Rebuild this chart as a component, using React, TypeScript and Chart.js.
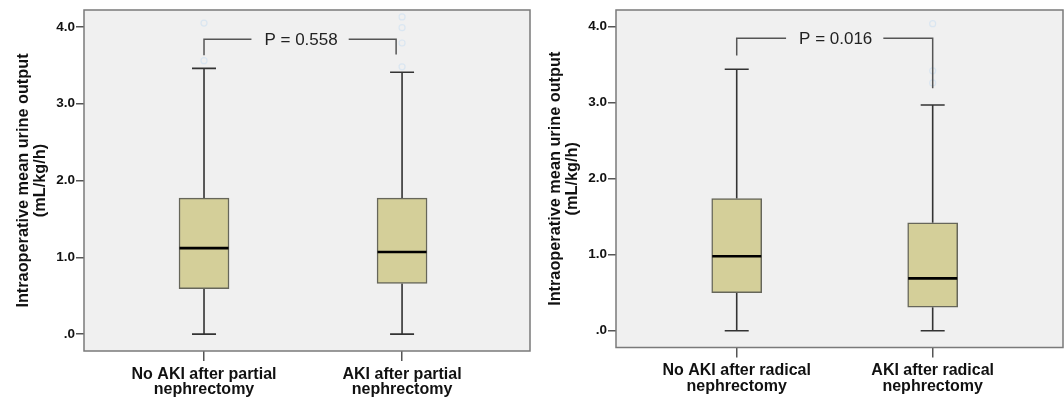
import React, { useEffect, useRef } from 'react';
import { Chart, registerables } from 'chart.js';

Chart.register(...registerables);

// ---------- data ----------
const yTickValues = [0, 1, 2, 3, 4];
const yTickLabels = ['.0', '1.0', '2.0', '3.0', '4.0'];
const yTitle = ['Intraoperative mean urine output', '(mL/kg/h)'];
const groupPositions = [1, 2];

const leftCategories = [['No AKI after partial', 'nephrectomy'], ['AKI after partial', 'nephrectomy']];
const leftMin = [0, 0];
const leftQ1 = [0.59, 0.66];
const leftMedian = [1.12, 1.07];
const leftQ3 = [1.77, 1.77];
const leftMax = [3.46, 3.41];
const leftOutliers = [[3.56, 4.05], [3.48, 3.79, 3.99, 4.13]];
const leftPLabel = 'P = 0.558';
const leftBracketX = [1, 1.97];
const leftBracketY = [3.63, 3.84, 3.64];

const rightCategories = [['No AKI after radical', 'nephrectomy'], ['AKI after radical', 'nephrectomy']];
const rightMin = [0, 0];
const rightQ1 = [0.5, 0.31];
const rightMedian = [0.98, 0.69];
const rightQ3 = [1.74, 1.42];
const rightMax = [3.44, 2.97];
const rightOutliers = [[], [3.26, 3.42, 4.04]];
const rightPLabel = 'P = 0.016';
const rightBracketX = [1, 2];
const rightBracketY = [3.62, 3.85, 3.19];

// ---------- styles ----------
const FONT = "'Liberation Sans', Arial, Helvetica, sans-serif";
const BOX_FILL = 'rgb(212,207,153)';
const BOX_BORDER = '#66665a';
const LINE = '#333333';
const FRAME = '#7a7a7a';
const PLOT_BG = '#f0f0f0';

type Panel = {
  categories: string[][];
  min: number[];
  q1: number[];
  median: number[];
  q3: number[];
  max: number[];
  outliers: number[][];
  pLabel: string;
  bracketX: number[];
  bracketY: number[];
  xMin: number;
  xMax: number;
  padRight: number;
  xAxisHeight: number;
};

const leftPanel: Panel = {
  categories: leftCategories, min: leftMin, q1: leftQ1, median: leftMedian, q3: leftQ3, max: leftMax,
  outliers: leftOutliers, pLabel: leftPLabel, bracketX: leftBracketX, bracketY: leftBracketY,
  xMin: 0.394, xMax: 2.646, padRight: 2, xAxisHeight: 48,
};
const rightPanel: Panel = {
  categories: rightCategories, min: rightMin, q1: rightQ1, median: rightMedian, q3: rightQ3, max: rightMax,
  outliers: rightOutliers, pLabel: rightPLabel, bracketX: rightBracketX, bracketY: rightBracketY,
  xMin: 0.384, xMax: 2.665, padRight: 1, xAxisHeight: 51.5,
};

function boxPlugin(p: Panel) {
  return {
    id: 'boxExtras',
    beforeDraw(chart: any) {
      const { ctx, chartArea: a } = chart;
      ctx.save();
      ctx.fillStyle = PLOT_BG;
      ctx.fillRect(a.left, a.top, a.right - a.left, a.bottom - a.top);
      ctx.restore();
    },
    beforeDatasetsDraw(chart: any) {
      const { ctx } = chart;
      const xs = chart.scales.x;
      const ys = chart.scales.y;
      ctx.save();
      ctx.strokeStyle = LINE;
      ctx.lineWidth = 1.6;
      groupPositions.forEach((g, i) => {
        const x = xs.getPixelForValue(g);
        const yMin = ys.getPixelForValue(p.min[i]);
        const yMax = ys.getPixelForValue(p.max[i]);
        const yQ1 = ys.getPixelForValue(p.q1[i]);
        const yQ3 = ys.getPixelForValue(p.q3[i]);
        ctx.beginPath();
        ctx.moveTo(x, yQ3); ctx.lineTo(x, yMax);
        ctx.moveTo(x, yQ1); ctx.lineTo(x, yMin);
        ctx.moveTo(x - 12, yMax); ctx.lineTo(x + 12, yMax);
        ctx.moveTo(x - 12, yMin); ctx.lineTo(x + 12, yMin);
        ctx.stroke();
      });
      ctx.restore();
    },
    afterDatasetsDraw(chart: any) {
      const { ctx } = chart;
      const xs = chart.scales.x;
      const ys = chart.scales.y;
      ctx.save();
      // medians
      ctx.strokeStyle = '#000';
      ctx.lineWidth = 2.6;
      groupPositions.forEach((g, i) => {
        const x = xs.getPixelForValue(g);
        const y = ys.getPixelForValue(p.median[i]);
        ctx.beginPath();
        ctx.moveTo(x - 24.5, y); ctx.lineTo(x + 24.5, y);
        ctx.stroke();
      });
      // bracket
      const xL = xs.getPixelForValue(p.bracketX[0]);
      const xR = xs.getPixelForValue(p.bracketX[1]);
      const yL = ys.getPixelForValue(p.bracketY[0]);
      const yT = ys.getPixelForValue(p.bracketY[1]);
      const yR = ys.getPixelForValue(p.bracketY[2]);
      ctx.font = `17px ${FONT}`;
      const tw = ctx.measureText(p.pLabel).width;
      const cx = (xL + xR) / 2 + 1;
      ctx.strokeStyle = '#555';
      ctx.lineWidth = 1.5;
      ctx.beginPath();
      ctx.moveTo(xL, yL); ctx.lineTo(xL, yT); ctx.lineTo(cx - tw / 2 - 13, yT);
      ctx.moveTo(cx + tw / 2 + 11, yT); ctx.lineTo(xR, yT); ctx.lineTo(xR, yR);
      ctx.stroke();
      ctx.fillStyle = '#222';
      ctx.textAlign = 'center';
      ctx.textBaseline = 'alphabetic';
      ctx.fillText(p.pLabel, cx, yT + 6.2);
      ctx.restore();
    },
    afterDraw(chart: any) {
      const { ctx, chartArea: a } = chart;
      ctx.save();
      ctx.strokeStyle = FRAME;
      ctx.lineWidth = 1.5;
      ctx.strokeRect(a.left, a.top, a.right - a.left, a.bottom - a.top);
      ctx.restore();
    },
  };
}

function makeConfig(p: Panel): any {
  return {
    type: 'bar',
    data: {
      datasets: [
        {
          type: 'bar',
          data: groupPositions.map((x, i) => ({ x, y: [p.q1[i], p.q3[i]] })),
          backgroundColor: BOX_FILL,
          borderColor: BOX_BORDER,
          borderWidth: 1.5,
          borderSkipped: false,
          barThickness: 50,
          grouped: false,
        },
        {
          type: 'scatter',
          data: p.outliers.flatMap((vals, i) => vals.map((v) => ({ x: groupPositions[i], y: v }))),
          pointRadius: 3,
          pointBackgroundColor: 'rgba(0,0,0,0)',
          pointBorderColor: 'rgba(200,222,242,0.55)',
          pointBorderWidth: 1.2,
        },
      ],
    },
    options: {
      animation: false,
      responsive: false,
      events: [],
      layout: { autoPadding: false, padding: { left: 0, right: p.padRight, top: 10, bottom: 0 } },
      plugins: { legend: { display: false }, tooltip: { enabled: false }, title: { display: false } },
      scales: {
        x: {
          type: 'linear',
          offset: false,
          min: p.xMin,
          max: p.xMax,
          afterBuildTicks: (s: any) => { s.ticks = groupPositions.map((v) => ({ value: v })); },
          afterFit: (s: any) => { s.height = p.xAxisHeight; },
          ticks: {
            autoSkip: false,
            maxRotation: 0,
            padding: 5.5,
            color: '#111',
            font: { family: FONT, size: 16, weight: 'bold', lineHeight: 0.98 },
            callback: (_v: any, i: number) => p.categories[i],
          },
          grid: { offset: false, drawOnChartArea: false, drawTicks: true, tickLength: 10, color: '#555', lineWidth: 1.5 },
          border: { display: false },
        },
        y: {
          min: -0.22,
          max: 4.22,
          afterBuildTicks: (s: any) => { s.ticks = yTickValues.map((v) => ({ value: v })); },
          afterFit: (s: any) => { s.width = 84; },
          ticks: {
            padding: 1,
            color: '#111',
            font: { family: FONT, size: 13.5, weight: 'bold' },
            callback: (_v: any, i: number) => yTickLabels[i],
          },
          grid: { drawOnChartArea: false, drawTicks: true, tickLength: 8, color: '#555', lineWidth: 1.5 },
          border: { display: false },
          title: {
            display: true,
            text: yTitle,
            color: '#111',
            font: { family: FONT, size: 16.3, weight: 'bold', lineHeight: 1.05 },
            padding: { top: 15, bottom: 0 },
          },
        },
      },
    },
    plugins: [boxPlugin(p)],
  };
}

function BoxPanel({ panel, left }: { panel: Panel; left: number }) {
  const ref = useRef<HTMLCanvasElement | null>(null);
  useEffect(() => {
    if (!ref.current) return;
    const chart = new Chart(ref.current, makeConfig(panel));
    return () => chart.destroy();
  }, [panel]);
  return (
    <canvas
      ref={ref}
      width={532}
      height={399}
      style={{ position: 'absolute', left, top: 0, width: 532, height: 399, display: 'block' }}
    />
  );
}

export default function App() {
  return (
    <div style={{ position: 'fixed', left: 0, top: 0, width: 1064, height: 399, background: '#fff', overflow: 'hidden' }}>
      <BoxPanel panel={leftPanel} left={0} />
      <BoxPanel panel={rightPanel} left={532} />
    </div>
  );
}
